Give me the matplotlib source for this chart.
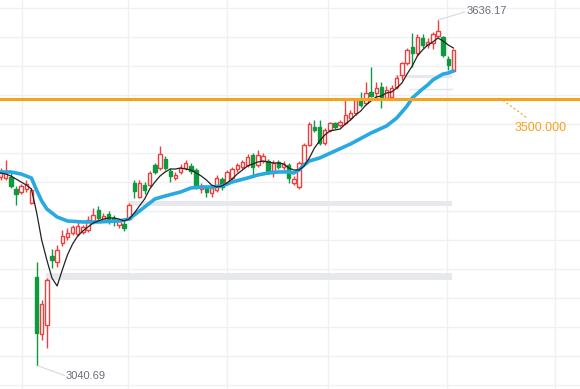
import matplotlib.pyplot as plt
import numpy as np

plt.rcParams['font.family'] = ['Liberation Sans', 'DejaVu Sans']

# daily candles (open / high / low / close)
opens = [3365.6, 3363.8, 3365.6, 3344.9, 3339.7, 3344.9, 3320.7, 3193.2, 3094.9, 3110.4,
         3229.4, 3219.0, 3251.8, 3262.1, 3269.0, 3267.3, 3270.7, 3274.2, 3288.0, 3308.7,
         3291.4, 3301.8, 3294.9, 3282.8, 3284.5, 3293.1, 3355.2, 3331.1, 3351.8, 3351.8,
         3386.2, 3381.1, 3396.6, 3375.9, 3363.8, 3374.2, 3381.1, 3384.5, 3377.6, 3344.9,
         3346.6, 3338.0, 3343.1, 3362.1, 3355.2, 3363.8, 3379.3, 3382.8, 3386.2, 3403.5,
         3386.2, 3393.1, 3393.1, 3375.9, 3391.4, 3382.8, 3386.2, 3355.2, 3348.3, 3389.7,
         3420.7, 3451.8, 3451.8, 3424.2, 3446.6, 3458.6, 3455.2, 3458.6, 3467.3, 3475.9,
         3498.3, 3493.1, 3512.1, 3510.4, 3520.7, 3501.7, 3503.5, 3520.7, 3541.4, 3562.1,
         3589.7, 3579.3, 3605.2, 3593.1, 3596.6, 3608.6, 3606.9, 3569.0, 3548.3]
highs = [3381.1, 3394.9, 3374.2, 3350.0, 3353.5, 3360.4, 3346.6, 3219.0, 3153.5, 3191.4,
         3241.4, 3248.3, 3274.2, 3277.6, 3282.8, 3288.0, 3282.8, 3298.3, 3312.1, 3315.6,
         3303.5, 3306.9, 3300.0, 3293.1, 3289.7, 3320.7, 3360.4, 3360.4, 3356.9, 3375.9,
         3389.7, 3419.0, 3401.8, 3381.1, 3374.2, 3388.0, 3394.9, 3389.7, 3381.1, 3355.2,
         3350.0, 3351.8, 3369.0, 3365.6, 3377.6, 3382.8, 3389.7, 3394.9, 3405.2, 3406.9,
         3412.1, 3406.9, 3396.6, 3394.9, 3394.9, 3393.1, 3389.7, 3367.3, 3393.1, 3424.2,
         3460.4, 3463.8, 3463.8, 3450.0, 3460.4, 3460.4, 3463.8, 3500.0, 3481.1, 3500.0,
         3512.1, 3529.3, 3555.2, 3529.3, 3529.3, 3522.4, 3524.2, 3541.4, 3563.8, 3587.9,
         3613.8, 3612.1, 3612.1, 3605.2, 3615.5, 3636.17, 3608.6, 3574.2, 3586.2]
lows = [3360.4, 3360.4, 3346.6, 3317.3, 3336.2, 3339.7, 3319.0, 3040.69, 3084.5, 3070.7,
        3208.7, 3210.4, 3246.6, 3256.9, 3265.6, 3263.8, 3267.3, 3270.7, 3284.5, 3288.0,
        3288.0, 3284.5, 3281.1, 3277.6, 3272.5, 3291.4, 3329.3, 3329.3, 3336.2, 3348.3,
        3370.7, 3377.6, 3377.6, 3356.9, 3360.4, 3370.7, 3377.6, 3370.7, 3344.9, 3338.0,
        3331.1, 3331.1, 3339.7, 3343.1, 3351.8, 3360.4, 3374.2, 3379.3, 3382.8, 3365.6,
        3382.8, 3389.7, 3370.7, 3365.6, 3379.3, 3377.6, 3355.2, 3351.8, 3344.9, 3386.2,
        3419.0, 3443.1, 3420.7, 3420.7, 3443.1, 3448.3, 3451.8, 3455.2, 3463.8, 3472.4,
        3486.2, 3489.7, 3503.5, 3498.3, 3484.5, 3498.3, 3500.0, 3517.3, 3532.8, 3558.6,
        3555.2, 3574.2, 3587.9, 3587.9, 3586.2, 3606.9, 3572.4, 3550.0, 3546.6]
closes = [3374.2, 3374.2, 3350.0, 3336.2, 3350.0, 3353.5, 3343.1, 3096.6, 3146.6, 3188.0,
          3222.5, 3239.7, 3263.8, 3269.0, 3279.4, 3281.1, 3279.4, 3291.4, 3300.0, 3294.9,
          3298.3, 3291.4, 3289.7, 3289.7, 3277.6, 3317.3, 3341.4, 3355.2, 3343.1, 3372.4,
          3374.2, 3405.2, 3381.1, 3367.3, 3369.0, 3381.1, 3389.7, 3375.9, 3348.3, 3350.0,
          3339.7, 3346.6, 3363.8, 3348.3, 3374.2, 3379.3, 3386.2, 3391.4, 3400.0, 3382.8,
          3403.5, 3401.8, 3372.4, 3389.7, 3382.8, 3388.0, 3363.8, 3362.1, 3389.7, 3420.7,
          3456.9, 3446.6, 3424.2, 3446.6, 3458.6, 3451.8, 3460.4, 3472.4, 3475.9, 3498.3,
          3489.7, 3510.4, 3505.2, 3519.0, 3503.5, 3515.5, 3519.0, 3536.2, 3562.1, 3584.5,
          3579.3, 3606.9, 3593.1, 3598.3, 3612.1, 3617.3, 3575.9, 3558.6, 3584.5]

# short moving average (black) read per candle
ma_fast = [3372.4, 3370.7, 3367.3, 3362.1, 3356.9, 3351.8, 3344.9, 3305.2, 3256.9, 3222.5,
           3191.4, 3177.6, 3205.2, 3231.1, 3250.0, 3263.8, 3272.5, 3279.4, 3286.2, 3289.7,
           3293.1, 3294.9, 3294.9, 3293.1, 3289.7, 3293.1, 3303.5, 3315.6, 3327.6, 3344.9,
           3356.9, 3367.3, 3374.2, 3379.3, 3379.3, 3381.1, 3379.3, 3377.6, 3372.4, 3367.3,
           3360.4, 3351.8, 3348.3, 3350.0, 3355.2, 3362.1, 3370.7, 3377.6, 3384.5, 3388.0,
           3391.4, 3393.1, 3391.4, 3389.7, 3389.7, 3388.0, 3381.1, 3377.6, 3377.6, 3384.5,
           3398.3, 3415.5, 3427.6, 3438.0, 3444.9, 3446.6, 3448.3, 3456.9, 3463.8, 3472.4,
           3479.3, 3489.7, 3496.6, 3503.5, 3505.2, 3510.4, 3512.1, 3519.0, 3527.6, 3543.1,
           3556.9, 3574.2, 3584.5, 3593.1, 3598.3, 3605.2, 3600.0, 3593.1, 3587.9]

# slow moving average (blue), read at these candles
ma_slow_idx = [0, 2, 4, 6, 7, 8, 9, 11, 13, 16, 19, 23, 25, 27, 29, 30, 32, 35, 37, 39,
               41, 43, 45, 48, 50, 52, 54, 56, 57, 58, 59, 60, 62, 65, 68, 72, 75, 77, 79,
               80, 82, 83, 84, 85, 86, 87, 88]
ma_slow = [3374.2, 3374.2, 3370.7, 3363.8, 3343.1, 3324.2, 3310.4, 3296.6, 3289.7, 3288.0,
           3288.0, 3289.7, 3293.1, 3306.9, 3320.7, 3327.6, 3332.8, 3339.7, 3346.6, 3348.3,
           3348.3, 3350.0, 3356.9, 3363.8, 3369.0, 3372.4, 3374.2, 3374.2, 3372.4, 3377.6,
           3386.2, 3393.1, 3398.3, 3410.4, 3422.4, 3441.4, 3453.5, 3467.3, 3488.0, 3501.7,
           3517.3, 3524.2, 3532.8, 3538.0, 3543.1, 3544.8, 3548.3]

# price zones (low, high, first candle)
zone_low = [3316.0, 3187.5, 3535.5]
zone_high = [3324.5, 3200.0, 3541.5]
zone_start = [24.8, 8.8, 76.7]
zone_end = 87.7
thin_level = 3517.3
thin_start = 79.6

level = 3500.0
high_price = 3636.17
low_price = 3040.69

red = '#f03e3e'
green = '#0f9a3e'
orange = '#f7a21b'

fig = plt.figure(figsize=(5.8, 3.89), dpi=100)
ax = fig.add_axes([0, 0, 1, 1])
ax.set_xlim(-0.1, 112.6)
ax.set_ylim(3000, 3670.7)

# grid only, no axes
ax.set_xticks([4.2, 24.8, 44.0, 63.6, 86.8, 107.8])
ax.set_yticks(np.arange(3007, 3670, 50))
ax.grid(True, color='#eef0f4', lw=1)
ax.set_axisbelow(True)
ax.tick_params(length=0, labelbottom=False, labelleft=False)
for s in ax.spines.values():
    s.set_visible(False)

# zones
for lo, hi, st in zip(zone_low, zone_high, zone_start):
    ax.fill_between([st, zone_end], lo, hi, color='#e6e8ed', lw=0, zorder=1)
ax.plot([thin_start, zone_end], [thin_level, thin_level], color='#e3e5ea', lw=1, zorder=1)

# candles
o = np.array(opens)
h = np.array(highs)
l = np.array(lows)
c = np.array(closes)
x = np.arange(len(c))
up = c >= o
edge = np.where(up, red, green)
face = np.where(up, 'white', green)
ax.vlines(x, l, h, colors=edge, lw=1, zorder=2)
body = np.maximum(np.abs(c - o), 0.8)
ax.bar(x, body, bottom=np.minimum(o, c), width=0.66, color=face, edgecolor=edge,
       linewidth=1, zorder=3)

# moving averages
ax.plot(ma_slow_idx, ma_slow, color='#27a9e1', lw=2.6, zorder=4, solid_capstyle='round')
ax.plot(x, ma_fast, color='#222222', lw=0.9, zorder=5)

# level line
ax.axhline(level, color=orange, lw=2.2, zorder=6)
ax.plot([97.6, 102.4], [3498, 3467], color=orange, lw=0.8, ls=(0, (2, 2)), zorder=6)
ax.text(99.8, 3450, '%.3f' % level, color=orange, fontsize=9, va='center', ha='left')

# high / low labels
ax.plot([85, 90.2], [high_price, 3650], color='#d6d9df', lw=0.8, zorder=1)
ax.text(90.6, 3651.5, '%.2f' % high_price, color='#6b6e78', fontsize=8, va='center', ha='left')
ax.plot([7, 12.4], [low_price, 3023.5], color='#d6d9df', lw=0.8, zorder=1)
ax.text(12.7, 3022.5, '%.2f' % low_price, color='#6b6e78', fontsize=8, va='center', ha='left')

plt.savefig('out.png', dpi=100)
plt.close()
